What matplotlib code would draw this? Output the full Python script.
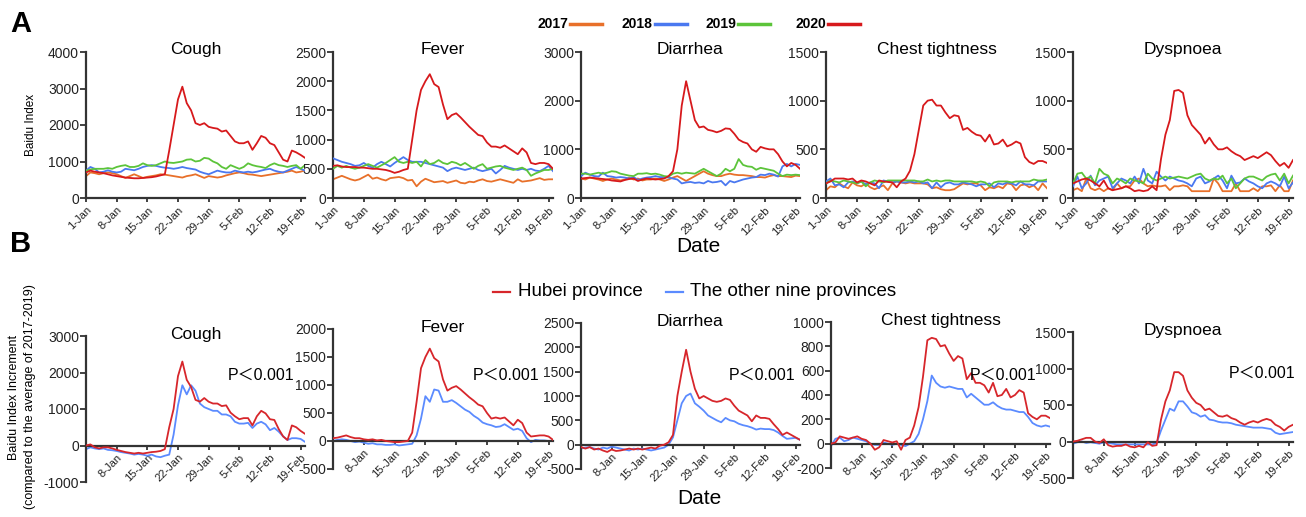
import numpy as np
import matplotlib
matplotlib.use("Agg")
import matplotlib.pyplot as plt
from matplotlib.lines import Line2D

plt.rcParams['font.family'] = ['Liberation Sans', 'Noto Sans CJK SC', 'DejaVu Sans']
plt.rcParams['axes.unicode_minus'] = False

# ---------------- data (daily, 1-Jan .. 20-Feb) ----------------
n_days = 51
tick_labels = ['1-Jan', '8-Jan', '15-Jan', '22-Jan', '29-Jan', '5-Feb', '12-Feb', '19-Feb']
tick_days = [0, 7, 14, 21, 28, 35, 42, 49]

symptoms = ['Cough', 'Fever', 'Diarrhea', 'Chest tightness', 'Dyspnoea']
years = ['2017', '2018', '2019', '2020']

cough_2020 = [700, 750, 720, 700, 680, 650, 620, 600, 580, 560, 550, 540, 540, 550, 560, 570, 590, 620, 650, 1300,
              2000, 2700, 3050, 2600, 2400, 2050, 2000, 2050, 1950, 1920, 1900, 1820, 1850, 1700, 1550, 1500, 1500,
              1550, 1320, 1500, 1700, 1650, 1500, 1450, 1250, 1050, 1000, 1300, 1250, 1180, 1100]
cough_2019 = [750, 780, 800, 800, 800, 820, 800, 850, 880, 900, 850, 850, 880, 950, 900, 880, 900, 950, 1000, 970,
              960, 980, 1000, 1050, 1060, 1000, 1020, 1100, 1080, 1000, 950, 850, 800, 900, 850, 800, 850, 950, 900,
              870, 850, 820, 900, 950, 900, 880, 850, 880, 900, 800, 900]
cough_2018 = [750, 850, 800, 700, 720, 760, 720, 700, 720, 800, 780, 760, 800, 850, 880, 900, 880, 850, 830, 820,
              800, 820, 850, 820, 800, 780, 720, 680, 650, 700, 750, 720, 700, 700, 750, 720, 700, 720, 700, 720,
              750, 780, 800, 750, 720, 700, 750, 800, 850, 800, 750]
cough_2017 = [600, 700, 680, 650, 680, 700, 680, 650, 600, 550, 600, 650, 600, 550, 580, 600, 620, 650, 640, 620,
              600, 580, 560, 600, 620, 650, 600, 550, 600, 580, 560, 580, 620, 650, 680, 700, 680, 650, 640, 620,
              600, 620, 640, 660, 680, 700, 720, 750, 700, 720, 760]

fever_2020 = [550, 560, 540, 530, 530, 530, 520, 520, 510, 500, 500, 490, 480, 460, 430, 450, 480, 500, 1000, 1500,
              1850, 2000, 2120, 1950, 1900, 1600, 1350, 1420, 1450, 1380, 1300, 1220, 1150, 1080, 1060, 950, 880,
              880, 860, 900, 850, 800, 750, 850, 780, 600, 580, 600, 600, 580, 500]
fever_2019 = [500, 550, 520, 550, 520, 500, 520, 550, 580, 550, 520, 560, 600, 650, 700, 620, 600, 620, 600, 620,
              540, 650, 580, 600, 650, 600, 580, 620, 600, 560, 600, 550, 500, 550, 580, 500, 520, 540, 550, 520,
              500, 480, 500, 520, 480, 380, 420, 450, 480, 480, 500]
fever_2018 = [680, 650, 620, 600, 580, 550, 560, 600, 550, 520, 580, 620, 580, 540, 600, 650, 700, 650, 620, 620,
              620, 600, 580, 560, 540, 520, 460, 500, 520, 500, 480, 500, 520, 480, 460, 480, 500, 420, 480, 550,
              520, 500, 480, 500, 480, 500, 470, 460, 500, 550, 460]
fever_2017 = [320, 350, 380, 350, 320, 300, 320, 360, 400, 330, 350, 320, 300, 340, 350, 360, 340, 300, 310, 200,
              280, 330, 300, 270, 280, 290, 260, 280, 300, 260, 250, 280, 270, 300, 320, 290, 280, 300, 320, 300,
              280, 260, 320, 280, 290, 300, 320, 340, 310, 320, 320]

diarrhea_2020 = [400, 410, 420, 410, 400, 390, 380, 360, 350, 340, 370, 390, 400, 350, 380, 400, 390, 380, 390, 400,
                 450, 550, 1000, 1900, 2400, 2000, 1600, 1450, 1470, 1400, 1380, 1350, 1380, 1430, 1420, 1320, 1200,
                 1150, 1120, 1000, 950, 1050, 1020, 1000, 1000, 900, 750, 650, 720, 680, 600]
diarrhea_2019 = [500, 500, 480, 500, 520, 500, 520, 550, 540, 500, 480, 460, 450, 500, 500, 510, 490, 500, 480, 450,
                 440, 500, 520, 500, 520, 510, 500, 550, 600, 550, 500, 450, 500, 600, 550, 600, 800, 680, 650, 640,
                 580, 620, 600, 580, 560, 500, 450, 480, 470, 480, 470]
diarrhea_2018 = [450, 520, 480, 450, 440, 520, 450, 440, 420, 430, 420, 400, 430, 370, 400, 420, 430, 450, 430, 430,
                 420, 400, 380, 300, 320, 330, 310, 320, 300, 350, 320, 330, 350, 260, 350, 320, 350, 380, 400, 420,
                 430, 480, 470, 500, 480, 440, 650, 700, 650, 700, 680]
diarrhea_2017 = [400, 380, 420, 400, 380, 350, 380, 400, 380, 360, 380, 420, 380, 400, 360, 380, 380, 400, 380, 350,
                 380, 420, 450, 400, 350, 400, 450, 500, 550, 500, 470, 450, 450, 480, 500, 480, 470, 470, 460, 450,
                 430, 430, 420, 450, 470, 450, 450, 440, 430, 460, 450]

chest_2020 = [150, 170, 200, 200, 200, 190, 200, 160, 180, 170, 150, 130, 180, 170, 165, 160, 110, 170, 200, 280,
              450, 700, 950, 1000, 1010, 950, 950, 880, 820, 850, 840, 700, 720, 680, 650, 640, 580, 650, 550, 560,
              600, 530, 550, 580, 560, 420, 370, 350, 380, 380, 360]
chest_2019 = [150, 180, 170, 160, 180, 170, 160, 150, 170, 120, 160, 180, 170, 160, 180, 180, 180, 180, 180, 180,
              180, 170, 170, 190, 170, 180, 170, 180, 180, 170, 170, 170, 170, 170, 160, 170, 160, 120, 160, 170,
              170, 170, 160, 170, 170, 170, 170, 190, 180, 180, 190]
chest_2018 = [170, 200, 130, 140, 110, 160, 170, 150, 170, 140, 160, 150, 100, 180, 170, 160, 170, 160, 160, 170,
              160, 170, 150, 160, 100, 160, 110, 150, 160, 140, 140, 160, 150, 140, 120, 140, 140, 150, 110, 150,
              140, 160, 150, 130, 170, 140, 140, 130, 170, 170, 170]
chest_2017 = [80, 120, 110, 150, 120, 100, 160, 130, 120, 150, 110, 90, 110, 130, 80, 150, 170, 160, 150, 160,
              150, 150, 150, 140, 100, 110, 90, 80, 80, 90, 120, 150, 140, 150, 150, 130, 80, 110, 100, 120,
              100, 150, 140, 80, 130, 140, 110, 130, 80, 150, 100]

dysp_2020 = [150, 170, 190, 200, 180, 150, 120, 180, 100, 80, 90, 100, 120, 100, 70, 80, 70, 80, 120, 80,
             400, 650, 800, 1100, 1110, 1080, 850, 750, 700, 650, 560, 620, 550, 500, 500, 520, 480, 450, 430, 390,
             410, 430, 410, 440, 470, 440, 380, 330, 360, 310, 390]
dysp_2019 = [150, 250, 260, 200, 220, 150, 300, 250, 230, 150, 200, 180, 150, 200, 180, 170, 150, 250, 200, 180,
             200, 220, 200, 210, 220, 210, 200, 220, 240, 250, 200, 180, 200, 190, 230, 150, 200, 100, 150, 200,
             220, 220, 200, 180, 220, 240, 250, 180, 250, 150, 230]
dysp_2018 = [120, 220, 100, 150, 230, 130, 180, 200, 220, 100, 150, 200, 180, 150, 220, 150, 300, 180, 150, 270,
             220, 180, 220, 200, 180, 170, 150, 120, 200, 220, 150, 170, 200, 230, 180, 100, 230, 150, 160, 200,
             170, 150, 120, 100, 150, 170, 150, 120, 220, 100, 160]
dysp_2017 = [80, 100, 70, 200, 100, 80, 100, 70, 100, 80, 150, 100, 120, 120, 180, 200, 150, 120, 130, 120,
             120, 130, 80, 120, 120, 130, 120, 70, 70, 70, 70, 70, 200, 150, 70, 70, 70, 150, 70, 70,
             70, 100, 70, 120, 120, 130, 70, 130, 70, 70, 180]

# Panel B: increment vs. 2017-2019 average
cough_hubei = [0, 30, -50, -80, -50, -50, -80, -120, -150, -180, -200, -220, -200, -220, -200, -180, -170, -150, -100,
               500, 1000, 1900, 2300, 1800, 1600, 1250, 1200, 1300, 1200, 1150, 1150, 1080, 1100, 900, 800, 720, 750,
               750, 550, 800, 950, 880, 720, 700, 450, 250, 150, 550, 500, 400, 320]
cough_other = [-100, -50, -80, -100, -80, -120, -130, -150, -180, -200, -220, -250, -230, -250, -280, -250, -300, -320,
               -280, -250, 300, 1100, 1650, 1400, 1650, 1500, 1150, 1050, 1000, 950, 950, 850, 850, 800, 650, 600,
               600, 620, 480, 600, 650, 580, 420, 480, 380, 250, 150, 200, 200, 180, 100]
fever_hubei = [50, 60, 80, 100, 70, 50, 50, 30, 20, 30, 10, 20, 0, -10, -20, -20, -10, 0, 150, 700, 1300, 1500, 1650,
               1480, 1420, 1100, 900, 950, 980, 920, 850, 780, 720, 650, 620, 500, 400, 420, 400, 420, 350, 280, 380,
               320, 150, 80, 90, 100, 100, 80, 20]
fever_other = [0, 20, 30, 20, 0, -20, -10, -30, -50, -40, -60, -60, -70, -70, -60, -80, -70, -60, -50, 100, 400, 800,
               700, 920, 900, 700, 700, 730, 680, 620, 560, 520, 450, 400, 330, 300, 280, 250, 260, 300, 250, 200,
               220, 180, 50, -20, 20, 10, 10, 0, 0]
diarrhea_hubei = [-50, -80, -50, -100, -80, -120, -150, -100, -130, -120, -100, -80, -100, -80, -100, -80, -60, -80,
                  -20, 0, 50, 200, 1000, 1500, 1950, 1500, 1150, 950, 1000, 950, 900, 880, 900, 950, 920, 800, 700,
                  650, 600, 480, 600, 550, 550, 530, 420, 320, 200, 250, 200, 150, 100]
diarrhea_other = [-80, -60, -50, -80, -100, -60, -80, -40, -60, -80, -100, -120, -80, -100, -80, -100, -120, -100,
                  -80, -60, 0, 150, 500, 850, 1000, 1050, 850, 780, 700, 600, 550, 500, 460, 550, 500, 480, 430, 400,
                  380, 350, 310, 330, 320, 320, 300, 250, 180, 120, 130, 140, 100]
chest_hubei = [0, 10, 60, 50, 40, 50, 60, 40, 30, 0, -50, -30, 30, 20, 10, 20, -50, 30, 50, 150, 300, 550, 850, 870,
               860, 800, 810, 740, 680, 720, 700, 530, 580, 500, 500, 480, 420, 500, 390, 400, 450, 380, 400, 440,
               420, 250, 220, 200, 230, 230, 210]
chest_other = [-20, 40, 50, 20, 30, 50, 40, 30, 20, 0, -10, -10, 10, 0, -10, 0, -10, -20, 0, 20, 80, 200, 350, 560,
               500, 470, 460, 470, 460, 450, 450, 380, 410, 380, 350, 320, 320, 340, 310, 290, 280, 280, 270, 260,
               260, 220, 170, 150, 140, 150, 140]
dysp_hubei = [0, 10, 30, 50, 50, 0, -20, 30, -50, -70, -60, -60, -40, -70, -80, -60, -80, -10, -60, -50, 300, 550,
              700, 950, 950, 900, 700, 600, 530, 500, 430, 450, 400, 350, 340, 360, 320, 300, 260, 230, 260, 280,
              260, 290, 310, 290, 230, 200, 150, 200, 230]
dysp_other = [-30, -10, 0, -20, -10, -20, -30, -10, -20, -30, -40, -40, -40, -40, -40, -40, -40, -40, -40, -20, 150,
              300, 450, 420, 550, 550, 480, 400, 380, 340, 360, 300, 290, 270, 260, 260, 250, 230, 220, 210, 200,
              190, 190, 190, 180, 170, 120, 100, 110, 120, 130]

series_A = [
    [cough_2017, cough_2018, cough_2019, cough_2020],
    [fever_2017, fever_2018, fever_2019, fever_2020],
    [diarrhea_2017, diarrhea_2018, diarrhea_2019, diarrhea_2020],
    [chest_2017, chest_2018, chest_2019, chest_2020],
    [dysp_2017, dysp_2018, dysp_2019, dysp_2020],
]
series_B = [
    [cough_hubei, cough_other],
    [fever_hubei, fever_other],
    [diarrhea_hubei, diarrhea_other],
    [chest_hubei, chest_other],
    [dysp_hubei, dysp_other],
]
ylim_A = [(0, 4000, 1000), (0, 2500, 500), (0, 3000, 1000), (0, 1500, 500), (0, 1500, 500)]
ylim_B = [(-1000, 3000, 1000), (-500, 2000, 500), (-500, 2500, 500), (-200, 1000, 200), (-500, 1500, 500)]
p_label = 'P＜0.001'
legend_B = ['Hubei province', 'The other nine provinces']

# ---------------- styling ----------------
year_colors = ['#E8702A', '#4A78F0', '#5CC43A', '#D7191C']
prov_colors = ['#D7262B', '#5B8BFF']
axis_col = '#333333'

W, H = 1306, 517
fig = plt.figure(figsize=(W / 100, H / 100), dpi=100)


def rect(l, r, t, b):
    return [l / W, 1 - b / H, (r - l) / W, (b - t) / H]


lefts = [86, 333, 581, 826, 1073]
rights = [305, 553, 800, 1047, 1293]
B_lefts = [86, 333, 581, 831, 1073]
B_rights = [305, 553, 800, 1050, 1293]
B_tb = [(336, 482), (329, 469), (323, 469), (322, 468), (332, 478)]
p_pos = [(261, 375), (506, 375), (762, 375), (1003, 375), (1262, 373)]


def style(ax):
    for s in ['top', 'right']:
        ax.spines[s].set_visible(False)
    for s in ['left', 'bottom']:
        ax.spines[s].set_color(axis_col)
        ax.spines[s].set_linewidth(1.6)
    ax.tick_params(axis='y', length=4, width=1.3, colors=axis_col, labelsize=10, pad=1)
    ax.tick_params(axis='x', length=3, width=1.3, colors=axis_col, labelsize=8, pad=2)
    for lab in ax.get_yticklabels() + ax.get_xticklabels():
        lab.set_color('#222222')


days = np.arange(n_days)

# Row A
for i in range(5):
    ax = fig.add_axes(rect(lefts[i], rights[i], 52, 198))
    for j in range(4):
        ax.plot(days, series_A[i][j], color=year_colors[j], lw=1.3, zorder=2 + j)
    lo, hi, st = ylim_A[i]
    ax.set_ylim(lo, hi)
    ax.set_yticks(np.arange(lo, hi + 1, st))
    ax.set_xlim(0, n_days - 1)
    ax.set_xticks(tick_days)
    ax.set_xticklabels(tick_labels, rotation=45, ha='right', rotation_mode='anchor')
    style(ax)
    fig.text((lefts[i] + rights[i]) / 2 / W, 1 - 50 / H, symptoms[i], ha='center', va='center', fontsize=12.5)

# Row B
for i in range(5):
    t, b = B_tb[i]
    ax = fig.add_axes(rect(B_lefts[i], B_rights[i], t, b))
    for j in range(2):
        ax.plot(days, series_B[i][j], color=prov_colors[j], lw=1.3, zorder=3 - j)
    lo, hi, st = ylim_B[i]
    ax.set_ylim(lo, hi)
    ax.set_yticks(np.arange(lo, hi + 1, st))
    ax.set_xlim(0, n_days - 1)
    ax.spines['bottom'].set_position(('data', 0))
    ax.set_xticks(tick_days[1:])
    ax.set_xticklabels(tick_labels[1:], rotation=45, ha='right', rotation_mode='anchor')
    style(ax)
    fig.text((B_lefts[i] + B_rights[i]) / 2 / W, 1 - (t - 2) / H, symptoms[i], ha='center', va='center',
             fontsize=12.5)
    px, py = p_pos[i]
    fig.text(px / W, 1 - py / H, p_label, ha='center', va='center', fontsize=11.5)

# Panel letters
fig.text(10 / W, 1 - 24 / H, 'A', fontsize=21, fontweight='bold', ha='left', va='center')
fig.text(10 / W, 1 - 244 / H, 'B', fontsize=21, fontweight='bold', ha='left', va='center')

# Axis labels
fig.text(31 / W, 1 - 125 / H, 'Baidu Index', rotation=90, fontsize=8.5, ha='center', va='center')
fig.text(22 / W, 1 - 397 / H, 'Baidu Index Increment\n(compared to the average of 2017-2019)',
         rotation=90, fontsize=9, ha='center', va='center', linespacing=1.5)
fig.text(698 / W, 1 - 246 / H, 'Date', fontsize=15, ha='center', va='center')
fig.text(699 / W, 1 - 498 / H, 'Date', fontsize=15, ha='center', va='center')

# Legend A (year labels with line segments)
leg_x = [537, 622, 705, 795]
for k in range(4):
    x0 = leg_x[k]
    fig.text(x0 / W, 1 - 24 / H, years[k], fontsize=10, fontweight='bold', ha='left', va='center')
    fig.add_artist(Line2D([(x0 + 33) / W, (x0 + 65) / W], [1 - 24 / H, 1 - 24 / H],
                          color=year_colors[k], lw=2.5, transform=fig.transFigure))

# Legend B
ly = 1 - 292 / H
fig.add_artist(Line2D([493 / W, 510 / W], [ly, ly], color=prov_colors[0], lw=1.6, transform=fig.transFigure))
fig.text(518 / W, ly, legend_B[0], fontsize=13.5, ha='left', va='center')
fig.add_artist(Line2D([666 / W, 683 / W], [ly, ly], color=prov_colors[1], lw=1.6, transform=fig.transFigure))
fig.text(690 / W, ly, legend_B[1], fontsize=13.5, ha='left', va='center')

fig.savefig('out.png', dpi=100, facecolor='white')
